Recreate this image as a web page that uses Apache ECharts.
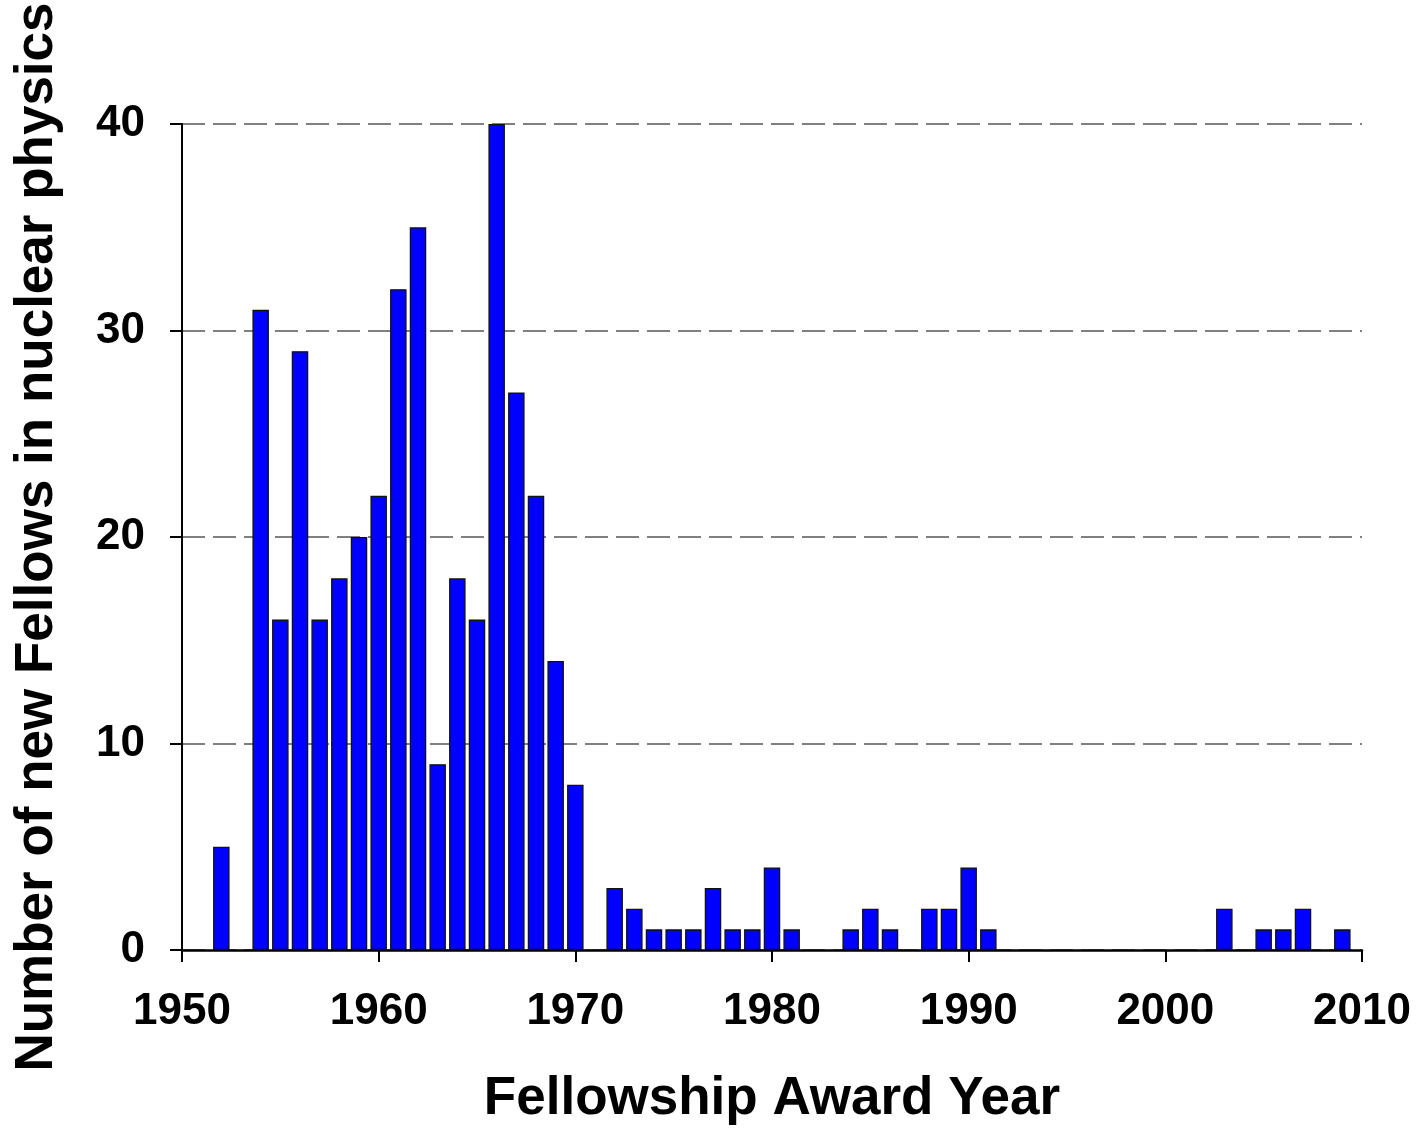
<!DOCTYPE html>
<html>
<head>
<meta charset="utf-8">
<title>Fellowship Award Year</title>
<script src="https://cdn.jsdelivr.net/npm/echarts@6/dist/echarts.min.js"></script>
<style>
	html, body { margin: 0; padding: 0; background: #fff; }
	#chart { width: 1420px; height: 1128px; }
</style>
</head>
<body>
<div id="chart"></div>
<script>
	// award years that had new fellows, and how many
	var years = [1952, 1954, 1955, 1956, 1957, 1958, 1959, 1960, 1961, 1962,
		1963, 1964, 1965, 1966, 1967, 1968, 1969, 1970, 1972, 1973,
		1974, 1975, 1976, 1977, 1978, 1979, 1980, 1981, 1984, 1985,
		1986, 1988, 1989, 1990, 1991, 2003, 2005, 2006, 2007, 2009];
	var fellows = [5, 31, 16, 29, 16, 18, 20, 22, 32, 35,
		9, 18, 16, 40, 27, 22, 14, 8, 3, 2,
		1, 1, 1, 3, 1, 1, 4, 1, 1, 2,
		1, 2, 2, 4, 1, 2, 1, 1, 2, 1];
	var xTicks = [1950, 2010, 10];
	var yTicks = [0, 40, 10];

	var font = '"Liberation Sans", Arial, sans-serif';
	var data = [];
	for (var i = 0; i < years.length; i++) {
		data.push([years[i], fellows[i]]);
	}

	var option = {
		animation: false,
		backgroundColor: '#ffffff',
		grid: {
			left: 182,
			right: 58,
			top: 124,
			bottom: 178,
			containLabel: false,
			outerBoundsMode: 'none'
		},
		xAxis: {
			type: 'value',
			min: xTicks[0],
			max: xTicks[1],
			interval: xTicks[2],
			name: 'Fellowship Award Year',
			nameLocation: 'middle',
			nameGap: 123,
			nameTextStyle: { fontFamily: font, fontWeight: 'bold', fontSize: 53, color: '#000' },
			axisLine: { show: true, onZero: false, lineStyle: { color: '#000', width: 2.5 } },
			axisTick: { show: true, length: 12, lineStyle: { color: '#000', width: 2 } },
			axisLabel: {
				margin: 40,
				showMinLabel: true,
				showMaxLabel: true,
				formatter: function (v) { return String(v); },
				fontFamily: font, fontWeight: 'bold', fontSize: 44, color: '#000'
			},
			splitLine: { show: false }
		},
		yAxis: {
			type: 'value',
			min: yTicks[0],
			max: yTicks[1],
			interval: yTicks[2],
			name: 'Number of new Fellows in nuclear physics',
			nameLocation: 'middle',
			nameGap: 118,
			nameRotate: 90,
			nameTextStyle: { fontFamily: font, fontWeight: 'bold', fontSize: 53, color: '#000' },
			axisLine: { show: true, lineStyle: { color: '#000', width: 2 } },
			axisTick: { show: true, length: 12, lineStyle: { color: '#000', width: 2 } },
			axisLabel: {
				margin: 37,
				fontFamily: font, fontWeight: 'bold', fontSize: 44, color: '#000'
			},
			splitLine: {
				show: true,
				lineStyle: { color: '#808080', width: 2, type: [23, 8] }
			}
		},
		series: [{
			type: 'bar',
			data: data,
			barWidth: 16.5,
			itemStyle: {
				color: '#0000ff',
				borderColor: '#111',
				borderWidth: 1.3
			}
		}]
	};

	var myChart = echarts.init(document.getElementById('chart'));
	myChart.setOption(option);
</script>
</body>
</html>
